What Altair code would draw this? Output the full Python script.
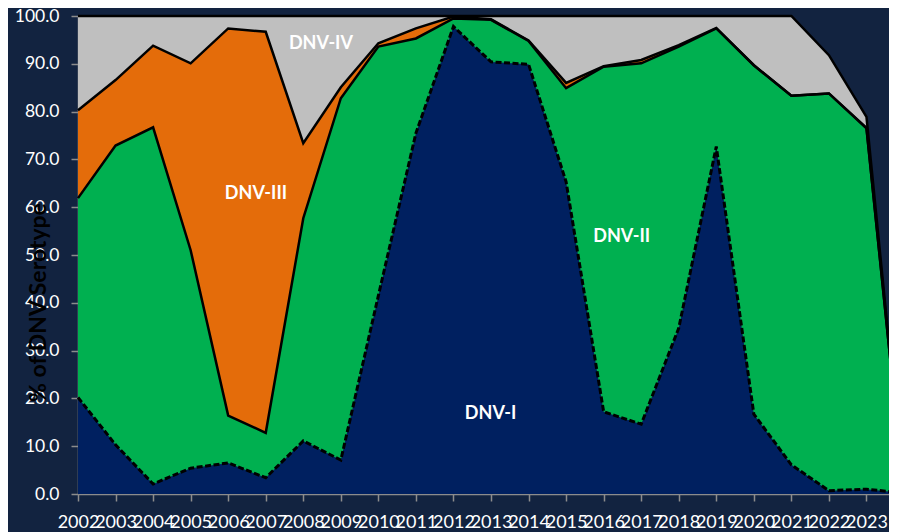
import altair as alt
import pandas as pd

# ---- data ----
years = list(range(2002, 2025))
serotypes = ["DNV-I", "DNV-II", "DNV-III", "DNV-IV"]
colors = ["#002060", "#00B050", "#E46C0A", "#BFBFBF"]

dnv1 = [20.2, 10.3, 2.1, 5.4, 6.5, 3.4, 11.1, 7.1, 41.5, 75.5, 97.8, 90.4,
        89.9, 65.3, 17.2, 14.6, 34.7, 72.7, 16.7, 6.1, 0.7, 1.0, 0.2]
dnv2 = [41.7, 62.6, 74.6, 45.6, 9.9, 9.4, 46.6, 75.7, 52.1, 19.8, 1.7, 8.8,
        4.9, 19.6, 72.2, 75.5, 58.9, 24.7, 73.0, 77.2, 83.1, 75.5, 0.0]
dnv3 = [18.4, 13.7, 17.1, 39.1, 81.0, 83.9, 15.7, 2.3, 0.7, 2.1, 0.4, 0.1,
        0.1, 1.1, 0.1, 0.7, 0.3, 0.1, 0.0, 0.0, 0.0, 0.1, 0.0]
dnv4 = [19.7, 13.4, 6.2, 9.9, 2.6, 3.3, 26.6, 14.9, 5.7, 2.6, 0.1, 0.7,
        5.1, 14.0, 10.5, 9.2, 6.1, 2.5, 10.3, 16.7, 8.0, 2.3, 0.0]

y_ticks = [0, 10, 20, 30, 40, 50, 60, 70, 80, 90, 100]
x_ticks = list(range(2002, 2024))

label_text = ["DNV-I", "DNV-II", "DNV-III", "DNV-IV"]
label_year = [2012.99, 2016.48, 2006.74, 2008.47]
label_val = [16.8, 53.7, 62.8, 94.1]

# ---- build cumulative table ----
rows = []
for i, yr in enumerate(years):
    low = 0.0
    for k, (name, vals) in enumerate(zip(serotypes, [dnv1, dnv2, dnv3, dnv4])):
        high = low + vals[i]
        rows.append({"year": yr, "serotype": name, "low": low, "high": high, "k": k})
        low = high
df = pd.DataFrame(rows)
labels = pd.DataFrame({"text": label_text, "year": label_year, "high": label_val})

FONT = "Lato"
xscale = alt.Scale(domain=[2002, 2023.6], nice=False, zero=False)
yscale = alt.Scale(domain=[0, 100], nice=False)

x_enc = alt.X("year:Q", scale=xscale,
              axis=alt.Axis(values=x_ticks, format="d", labelFontSize=18, labelColor="#FFFFFF",
                            labelFont=FONT, labelPadding=12, labelOverlap=False, tickSize=7,
                            tickColor="#8C8C8C", domainColor="#8C8C8C", domainWidth=1.5,
                            tickWidth=1.5, grid=False, title=None, labelFlush=False))
y_enc = alt.Y("high:Q", scale=yscale, stack=None,
              axis=alt.Axis(values=y_ticks, format=".1f", labelFontSize=17.5, labelColor="#FFFFFF",
                            labelFont=FONT, labelPadding=12, tickSize=7, tickColor="#8C8C8C",
                            labelOverlap=False,
                            domainColor="#8C8C8C", domainWidth=1.5, tickWidth=1.5, grid=False,
                            title="% of DNV Serotype", titleColor="#000000", titleFont=FONT,
                            titleFontSize=23, titleFontWeight="bold", titleAngle=270,
                            titleX=-40, titleY=286, titleAlign="center", titleBaseline="middle",
                            labelFlush=False))

base = alt.Chart(df).encode(x=x_enc, y=y_enc)

areas = base.mark_area(clip=True, opacity=1).encode(
    y2="low:Q",
    color=alt.Color("serotype:N", scale=alt.Scale(domain=serotypes, range=colors), legend=None),
    order="k:Q",
)

line_dashed = base.transform_filter(alt.datum.serotype == "DNV-I").mark_line(
    color="#000000", strokeWidth=3, strokeDash=[6, 2.5]
)

line_solid = base.transform_filter(alt.datum.serotype != "DNV-I").mark_line(
    color="#000000", strokeWidth=2.5
).encode(detail="serotype:N")

texts = alt.Chart(labels).mark_text(
    font=FONT, fontSize=18, fontWeight="bold", color="#FFFFFF", align="center", baseline="middle"
).encode(x=x_enc, y=y_enc, text="text:N")

chart = alt.layer(areas, line_dashed, line_solid, texts).properties(
    width=811, height=478, background="#122340",
    padding={"left": 70, "top": 8, "right": 0, "bottom": 38},
    autosize=alt.AutoSizeParams(type="none"),
).configure_view(strokeWidth=0).configure_axisX(labelOverlap=False)

chart.save("out.html", embed_options={"renderer": "svg", "actions": False})
